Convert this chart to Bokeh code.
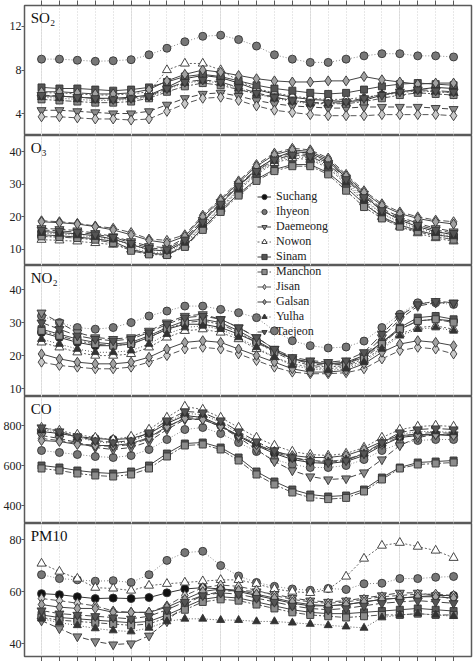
from bokeh.plotting import figure
from bokeh.layouts import column
from bokeh.models import Range1d, FixedTicker, Label, Legend, LegendItem, LinearAxis, Grid
from bokeh.embed import file_html
from bokeh.resources import INLINE

# Hour of day (x axis)
hours = [0, 1, 2, 3, 4, 5, 6, 7, 8, 9, 10, 11, 12, 13, 14, 15, 16, 17, 18, 19, 20, 21, 22, 23]

stations = ["Suchang", "Ihyeon", "Daemeong", "Nowon", "Sinam",
            "Manchon", "Jisan", "Galsan", "Yulha", "Taejeon"]

# ---- SO2 (ppb) ----
so2_suchang = [5.6, 5.6, 5.5, 5.4, 5.4, 5.5, 5.7, 6.4, 7.2, 7.5, 7.3, 6.8, 6.2, 5.8, 5.5, 5.3, 5.2, 5.1, 5.2, 5.7, 6.0, 6.2, 6.4, 6.3]
so2_ihyeon = [9.0, 9.0, 8.9, 8.8, 8.85, 8.95, 9.4, 10.0, 10.6, 11.1, 11.2, 10.8, 10.2, 9.4, 9.0, 8.7, 8.7, 9.0, 9.3, 9.5, 9.5, 9.3, 9.3, 9.2]
so2_daemeong = [4.3, 4.3, 4.2, 4.1, 4.0, 4.0, 4.2, 4.8, 5.4, 5.8, 5.9, 5.6, 5.2, 4.9, 4.7, 4.6, 4.5, 4.5, 4.6, 4.6, 4.6, 4.6, 4.5, 4.4]
so2_nowon = [5.9, 5.9, 5.8, 5.7, 5.7, 5.8, 6.0, 8.0, 8.6, 8.6, 8.0, 7.0, 6.3, 5.9, 5.6, 5.4, 5.3, 5.3, 5.5, 5.7, 5.9, 6.1, 6.0, 5.9]
so2_sinam = [6.4, 6.3, 6.3, 6.2, 6.1, 6.2, 6.4, 6.9, 7.4, 7.6, 7.4, 7.0, 6.6, 6.3, 6.1, 5.9, 5.8, 5.9, 6.2, 6.5, 6.7, 6.8, 6.7, 6.6]
so2_manchon = [5.3, 5.2, 5.1, 5.0, 5.0, 5.1, 5.4, 6.0, 6.5, 6.8, 6.6, 6.2, 5.8, 5.5, 5.2, 5.0, 4.9, 4.9, 5.1, 5.4, 5.7, 5.9, 5.8, 5.7]
so2_jisan = [3.7, 3.7, 3.6, 3.5, 3.5, 3.4, 3.5, 4.2, 4.9, 5.4, 5.5, 5.2, 4.7, 4.3, 4.1, 3.9, 3.8, 3.8, 3.8, 3.9, 3.9, 3.9, 3.9, 3.8]
so2_galsan = [6.0, 6.0, 5.9, 5.8, 5.8, 5.9, 6.2, 7.0, 7.6, 8.0, 7.8, 7.5, 7.2, 7.0, 6.9, 6.9, 7.0, 7.0, 7.4, 7.1, 6.9, 6.7, 6.8, 6.8]
so2_yulha = [5.5, 5.4, 5.3, 5.2, 5.2, 5.3, 5.5, 6.2, 6.8, 7.0, 6.8, 6.3, 5.8, 5.4, 5.1, 4.9, 4.9, 5.0, 5.4, 5.8, 6.0, 6.1, 6.0, 5.9]
so2_taejeon = [5.7, 5.6, 5.5, 5.4, 5.3, 5.4, 5.6, 6.3, 6.9, 7.1, 6.9, 6.4, 5.9, 5.5, 5.2, 5.0, 5.0, 5.1, 5.4, 5.7, 6.0, 6.2, 6.1, 6.0]

# ---- O3 (ppb) ----
o3_suchang = [15.5, 15.2, 14.8, 14.2, 13.2, 11.5, 10.0, 9.5, 12.5, 18.5, 24.0, 29.5, 34.5, 38.0, 40.0, 39.5, 37.0, 32.0, 26.5, 22.0, 19.0, 17.0, 15.5, 14.5]
o3_ihyeon = [14.0, 13.8, 13.5, 13.0, 12.0, 10.5, 9.2, 9.0, 12.0, 17.5, 23.0, 28.5, 33.5, 37.0, 39.0, 38.5, 36.0, 31.0, 25.5, 21.0, 18.0, 16.0, 14.5, 13.5]
o3_daemeong = [16.5, 16.2, 15.8, 15.0, 14.0, 12.5, 11.0, 10.5, 13.5, 19.0, 24.5, 30.0, 34.5, 38.0, 39.5, 39.0, 36.5, 32.0, 27.0, 22.5, 20.0, 18.0, 16.5, 15.5]
o3_nowon = [13.0, 12.8, 12.5, 12.0, 11.5, 10.0, 8.8, 8.5, 11.5, 17.0, 22.5, 28.0, 33.0, 36.5, 38.0, 37.5, 35.0, 30.0, 24.5, 20.0, 17.0, 15.0, 13.5, 12.5]
o3_sinam = [14.5, 14.2, 13.8, 13.3, 12.5, 10.0, 8.8, 8.5, 11.0, 16.5, 22.0, 27.0, 31.5, 34.5, 36.0, 36.0, 33.5, 29.0, 24.0, 20.0, 17.5, 15.8, 14.5, 13.8]
o3_manchon = [14.0, 13.8, 13.5, 13.0, 12.0, 9.6, 8.5, 8.3, 10.8, 16.0, 21.5, 26.5, 31.0, 34.0, 35.5, 35.5, 33.0, 28.0, 23.0, 19.5, 17.0, 15.5, 14.0, 13.0]
o3_jisan = [18.8, 18.5, 18.0, 17.2, 16.5, 15.2, 13.2, 12.8, 14.5, 20.5, 25.5, 31.0, 36.0, 39.5, 41.0, 40.5, 38.0, 33.0, 28.0, 24.0, 21.5, 20.0, 19.0, 18.5]
o3_galsan = [18.5, 18.2, 17.8, 17.0, 16.0, 14.5, 12.8, 12.0, 14.0, 20.0, 25.0, 30.5, 35.5, 39.0, 40.5, 40.0, 37.5, 32.5, 27.5, 23.5, 21.0, 19.5, 18.5, 17.8]
o3_yulha = [15.0, 14.8, 14.3, 13.8, 13.0, 11.5, 9.8, 9.5, 12.0, 17.5, 23.0, 28.5, 33.5, 37.0, 38.5, 38.0, 35.5, 30.5, 25.0, 21.0, 18.5, 16.5, 15.0, 14.0]
o3_taejeon = [16.0, 15.7, 15.3, 14.6, 13.8, 12.0, 10.5, 10.0, 13.0, 18.5, 24.0, 29.5, 34.0, 37.5, 39.0, 38.5, 36.0, 31.5, 26.0, 22.0, 19.5, 17.5, 16.0, 15.0]

# ---- NO2 (ppb) ----
no2_suchang = [27.0, 25.5, 24.0, 23.0, 23.0, 23.5, 25.5, 28.0, 29.5, 29.5, 28.5, 26.5, 24.0, 21.5, 19.0, 18.0, 17.5, 18.0, 20.0, 24.0, 28.0, 30.5, 31.0, 30.5]
no2_ihyeon = [32.0, 30.0, 28.5, 28.0, 28.5, 30.0, 32.0, 33.5, 35.0, 35.0, 34.0, 33.0, 31.5, 27.5, 24.5, 23.0, 22.3, 22.6, 24.4, 28.5, 32.5, 36.0, 36.0, 35.5]
no2_daemeong = [33.0, 30.0, 27.0, 25.5, 25.0, 25.5, 27.5, 30.0, 32.0, 32.5, 31.0, 28.5, 25.5, 22.0, 19.0, 17.5, 17.0, 17.5, 20.0, 25.5, 31.0, 35.0, 36.0, 36.0]
no2_nowon = [24.0, 22.5, 21.0, 20.0, 20.0, 20.5, 22.5, 25.5, 27.5, 28.0, 27.0, 25.0, 22.0, 19.5, 17.5, 16.5, 16.0, 16.5, 18.5, 22.5, 26.5, 28.5, 29.0, 28.0]
no2_sinam = [28.0, 26.5, 25.0, 24.0, 23.5, 24.0, 26.0, 28.5, 30.5, 31.0, 30.0, 27.5, 24.5, 21.5, 19.0, 18.0, 17.5, 17.5, 19.5, 24.0, 28.5, 31.5, 32.0, 31.0]
no2_manchon = [27.5, 26.0, 24.5, 23.5, 23.0, 23.5, 25.5, 28.0, 30.0, 30.5, 29.5, 27.0, 24.0, 21.0, 18.5, 17.0, 16.5, 17.0, 19.0, 23.5, 28.0, 30.5, 31.0, 30.0]
no2_jisan = [18.0, 17.0, 16.5, 16.0, 16.0, 16.5, 18.0, 20.0, 22.0, 22.5, 22.0, 20.5, 18.5, 16.5, 15.0, 14.5, 14.5, 14.8, 16.0, 19.0, 21.5, 22.5, 22.0, 20.5]
no2_galsan = [20.5, 19.0, 18.0, 17.5, 17.5, 18.0, 19.5, 22.0, 24.0, 24.5, 24.0, 22.0, 20.0, 18.0, 16.0, 15.0, 15.0, 15.5, 17.5, 21.0, 23.5, 24.5, 24.0, 23.0]
no2_yulha = [25.0, 23.5, 22.0, 21.0, 21.0, 21.5, 23.5, 26.5, 28.5, 29.0, 28.0, 25.5, 22.5, 19.5, 17.0, 16.0, 15.5, 16.0, 18.0, 22.0, 26.0, 28.0, 28.5, 27.5]
no2_taejeon = [30.0, 28.0, 26.0, 25.0, 24.5, 25.0, 27.0, 29.5, 31.5, 32.0, 31.0, 28.5, 25.5, 22.0, 19.5, 18.5, 18.0, 18.5, 21.0, 26.5, 32.0, 35.5, 36.5, 36.0]

# ---- CO (ppb) ----
co_suchang = [770, 760, 745, 735, 730, 735, 760, 810, 850, 840, 800, 745, 700, 660, 630, 615, 610, 620, 650, 700, 740, 750, 755, 750]
co_ihyeon = [675, 665, 655, 645, 640, 650, 680, 730, 780, 790, 760, 715, 670, 630, 605, 590, 590, 600, 630, 675, 710, 725, 730, 730]
co_daemeong = [750, 735, 715, 690, 680, 690, 720, 780, 830, 830, 795, 740, 680, 620, 575, 545, 530, 535, 565, 630, 700, 740, 755, 755]
co_nowon = [790, 775, 755, 740, 730, 745, 780, 840, 895, 880, 840, 790, 740, 700, 670, 655, 650, 660, 690, 740, 780, 795, 800, 795]
co_sinam = [600, 590, 575, 565, 560, 570, 600, 660, 710, 715, 690, 640, 570, 520, 480, 455, 445, 450, 480, 540, 590, 615, 620, 625]
co_manchon = [585, 575, 560, 550, 545, 555, 585, 645, 700, 705, 680, 625, 555, 505, 465, 440, 432, 438, 470, 530, 585, 605, 610, 615]
co_jisan = [735, 725, 710, 700, 695, 705, 735, 790, 840, 835, 800, 750, 705, 665, 640, 625, 620, 630, 660, 705, 745, 760, 765, 760]
co_galsan = [725, 720, 705, 700, 700, 710, 740, 795, 835, 830, 795, 750, 705, 670, 650, 640, 640, 650, 680, 720, 750, 755, 755, 750]
co_yulha = [780, 765, 740, 720, 710, 720, 755, 815, 860, 855, 815, 760, 710, 670, 640, 625, 620, 630, 660, 710, 755, 770, 770, 765]
co_taejeon = [790, 770, 745, 725, 715, 725, 765, 825, 870, 865, 825, 770, 720, 675, 640, 620, 615, 625, 660, 715, 765, 780, 785, 780]

# ---- PM10 (ug/m3) ----
pm_suchang = [59.2, 58.8, 58.0, 57.3, 57.5, 57.3, 57.7, 59.5, 61.0, 61.5, 61.0, 60.0, 58.5, 57.0, 55.5, 54.5, 54.5, 55.0, 56.0, 57.0, 57.5, 58.0, 58.5, 58.5]
pm_ihyeon = [66.5, 65.0, 64.5, 64.0, 64.2, 63.5, 66.5, 72.0, 75.0, 75.5, 70.0, 66.0, 63.5, 62.0, 61.0, 60.5, 61.2, 60.8, 63.0, 63.2, 65.0, 65.0, 65.5, 65.8]
pm_daemeong = [48.8, 45.8, 42.7, 40.8, 39.6, 40.0, 43.0, 48.5, 55.0, 58.5, 60.0, 60.5, 60.0, 59.0, 57.5, 56.5, 56.0, 56.5, 57.5, 58.5, 59.5, 59.5, 58.5, 57.0]
pm_nowon = [70.8, 67.7, 65.0, 61.5, 61.2, 60.4, 62.3, 63.0, 63.5, 64.0, 64.5, 64.5, 63.0, 61.0, 60.0, 59.5, 60.8, 65.8, 72.7, 77.7, 78.8, 77.3, 75.8, 73.0]
pm_sinam = [51.0, 50.0, 49.5, 49.0, 48.5, 48.0, 48.5, 51.0, 54.0, 57.0, 58.0, 57.5, 56.0, 54.5, 53.0, 52.0, 51.5, 51.5, 52.0, 52.5, 53.0, 53.5, 53.0, 52.5]
pm_manchon = [50.0, 49.0, 48.5, 48.0, 47.5, 47.0, 47.5, 50.0, 53.0, 56.0, 57.0, 56.5, 55.0, 53.5, 52.0, 51.0, 50.5, 50.0, 50.5, 51.0, 51.0, 51.5, 51.0, 51.0]
pm_jisan = [57.3, 56.5, 55.5, 54.5, 52.5, 52.0, 52.0, 54.5, 58.5, 61.5, 62.5, 62.0, 60.5, 58.5, 57.0, 56.0, 55.5, 56.0, 57.0, 58.0, 58.5, 59.0, 59.0, 58.5]
pm_galsan = [55.0, 54.0, 53.5, 53.5, 52.0, 52.0, 52.0, 54.0, 57.0, 60.0, 61.0, 60.5, 59.0, 57.5, 56.0, 55.0, 54.5, 55.0, 56.0, 57.0, 57.5, 58.0, 58.0, 57.5]
pm_yulha = [49.6, 48.0, 47.0, 45.8, 45.0, 44.6, 46.0, 48.5, 49.5, 49.5, 49.0, 49.0, 48.5, 48.5, 48.0, 47.5, 47.0, 46.5, 46.0, 50.0, 51.0, 51.5, 51.0, 50.5]
pm_taejeon = [52.7, 51.5, 51.0, 50.5, 50.0, 49.5, 50.5, 53.0, 56.0, 58.5, 59.5, 59.0, 57.5, 56.0, 54.5, 53.5, 53.0, 53.5, 54.5, 55.5, 56.0, 56.5, 56.0, 55.5]

so2 = [so2_suchang, so2_ihyeon, so2_daemeong, so2_nowon, so2_sinam,
       so2_manchon, so2_jisan, so2_galsan, so2_yulha, so2_taejeon]
o3 = [o3_suchang, o3_ihyeon, o3_daemeong, o3_nowon, o3_sinam,
      o3_manchon, o3_jisan, o3_galsan, o3_yulha, o3_taejeon]
no2 = [no2_suchang, no2_ihyeon, no2_daemeong, no2_nowon, no2_sinam,
       no2_manchon, no2_jisan, no2_galsan, no2_yulha, no2_taejeon]
co = [co_suchang, co_ihyeon, co_daemeong, co_nowon, co_sinam,
      co_manchon, co_jisan, co_galsan, co_yulha, co_taejeon]
pm10 = [pm_suchang, pm_ihyeon, pm_daemeong, pm_nowon, pm_sinam,
        pm_manchon, pm_jisan, pm_galsan, pm_yulha, pm_taejeon]

# Per-station marker / line styling
STYLE = {
    "Suchang":  dict(marker="circle",            fill="#111111", size=8,  dash="solid",   lc="#333333"),
    "Ihyeon":   dict(marker="circle",            fill="#777777", size=8,  dash="1 2",     lc="#888888"),
    "Daemeong": dict(marker="inverted_triangle", fill="#8a8a8a", size=9,  dash="6 3",     lc="#444444"),
    "Nowon":    dict(marker="triangle",          fill="#ffffff", size=9,  dash="2 2",     lc="#666666"),
    "Sinam":    dict(marker="square",            fill="#555555", size=7,  dash="solid",   lc="#444444"),
    "Manchon":  dict(marker="square",            fill="#8c8c8c", size=7,  dash="6 2 2 2", lc="#555555"),
    "Jisan":    dict(marker="diamond",           fill="#c9c9c9", size=10, dash="6 3",     lc="#555555"),
    "Galsan":   dict(marker="diamond",           fill="#a2a2a2", size=10, dash="solid",   lc="#444444"),
    "Yulha":    dict(marker="triangle",          fill="#333333", size=8,  dash="1 2",     lc="#555555"),
    "Taejeon":  dict(marker="inverted_triangle", fill="#555555", size=9,  dash="8 3",     lc="#444444"),
}

SERIF = "Liberation Serif"
FRAME_W = 447
X_RANGE = (-0.95, 24.0)


def make_panel(title, series, y0, y1, yticks, frame_h, top_axis=False, bottom_axis=False,
               legend_slice=None, legend_loc=None):
    p = figure(frame_width=FRAME_W, frame_height=frame_h,
               x_range=Range1d(*X_RANGE), y_range=Range1d(y0, y1),
               x_axis_location=None, y_axis_location="left",
               output_backend="svg", toolbar_location=None,
               min_border_left=22, min_border_right=4,
               min_border_top=0, min_border_bottom=0,
               background_fill_color="white", border_fill_color="white",
               outline_line_color="#5a5a5a", outline_line_width=1.5)
    p.ygrid.visible = False
    p.add_layout(Grid(dimension=0, ticker=FixedTicker(ticks=hours),
                      grid_line_color="#d0d0d0", grid_line_dash="1 2",
                      grid_line_width=1))

    ya = p.yaxis[0]
    ya.ticker = FixedTicker(ticks=yticks)
    ya.major_tick_out = 3
    ya.major_tick_in = 0
    ya.minor_tick_out = 0
    ya.minor_tick_in = 0
    ya.major_label_standoff = 0
    ya.major_label_text_font = SERIF
    ya.major_label_text_font_size = "12px"
    ya.major_label_text_color = "#222222"
    ya.axis_line_color = "#5a5a5a"
    ya.major_tick_line_color = "#5a5a5a"

    # hour ticks on the outer edges; hour labels sit outside the visible area
    for loc, flag in (("above", top_axis), ("below", bottom_axis)):
        if flag:
            xa = LinearAxis(ticker=FixedTicker(ticks=hours),
                            major_tick_out=5, major_tick_in=0,
                            minor_tick_out=0, minor_tick_in=0,
                            major_label_text_font_size="0px",
                            major_label_standoff=0,
                            axis_line_color="#5a5a5a",
                            major_tick_line_color="#5a5a5a")
            p.add_layout(xa, loc)

    renderers = {}
    for name, vals in zip(stations, series):
        st = STYLE[name]
        lr = p.line(hours, vals, line_color=st["lc"], line_width=1,
                    line_dash=st["dash"])
        sr = p.scatter(hours, vals, marker=st["marker"], size=st["size"],
                       fill_color=st["fill"], line_color="#333333", line_width=0.9)
        renderers[name] = [lr, sr]

    p.add_layout(Label(x=-0.6, y=y1 - (y1 - y0) * 0.035, text=title,
                       text_font=SERIF, text_font_size="15px",
                       text_color="#111111", text_baseline="top"))

    if legend_slice is not None:
        items = [LegendItem(label=n, renderers=renderers[n]) for n in stations[legend_slice]]
        leg = Legend(items=items, location=legend_loc,
                     background_fill_alpha=0, border_line_alpha=0,
                     label_text_font=SERIF, label_text_font_size="12px",
                     label_text_color="#222222",
                     glyph_width=14, glyph_height=13, label_height=13,
                     label_standoff=5, spacing=0, padding=0, margin=0)
        p.add_layout(leg)
    return p


p1 = make_panel("SO\u2082", so2, 1.98, 13.93, [4, 8, 12], 130, top_axis=True)
p2 = make_panel("O\u2083", o3, 5.1, 44.9, [10, 20, 30, 40], 130,
                legend_slice=slice(0, 5), legend_loc=(233, 1))
p3 = make_panel("NO\u2082", no2, 7.6, 47.3, [10, 20, 30, 40], 131,
                legend_slice=slice(5, 10), legend_loc=(233, 57))
p4 = make_panel("CO", co, 310, 945, [400, 600, 800], 127)
p5 = make_panel("PM10", pm10, 35.0, 86.2, [40, 60, 80], 133, bottom_axis=True)

layout = column(p1, p2, p3, p4, p5, spacing=0)

open("out.html", "w").write(file_html(layout, INLINE))
